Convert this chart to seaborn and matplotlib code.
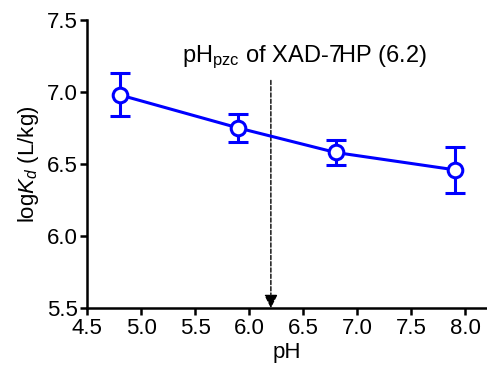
import matplotlib
matplotlib.use("Agg")
import matplotlib.pyplot as plt
import seaborn as sns
import pandas as pd

ph = [4.8, 5.9, 6.8, 7.9]
logkd = [6.98, 6.75, 6.58, 6.46]
err = [0.15, 0.10, 0.09, 0.16]
pzc = 6.2

sns.set_style("ticks")
plt.rcParams['font.family'] = ['Liberation Sans', 'DejaVu Sans']
plt.rcParams['mathtext.fontset'] = 'custom'
plt.rcParams['mathtext.rm'] = 'Liberation Sans'
plt.rcParams['mathtext.it'] = 'Liberation Sans:italic'
plt.rcParams['text.color'] = 'black'
plt.rcParams['axes.labelcolor'] = 'black'

fig = plt.figure(figsize=(4.87, 3.69), dpi=100)
ax = fig.add_axes([0.179, 0.165, 0.821, 0.781])

df = pd.DataFrame({"pH": ph, "logKd": logkd})
blue = "#0000ff"
ax.errorbar(ph, logkd, yerr=err, fmt='none', ecolor=blue, elinewidth=2.2,
            capsize=7, capthick=2.2, zorder=2)
sns.lineplot(data=df, x="pH", y="logKd", ax=ax, color=blue, linewidth=2.2,
             marker='o', markersize=10.5, markerfacecolor='white',
             markeredgecolor=blue, markeredgewidth=2.2, zorder=3)

ax.annotate("", xy=(pzc, 5.5), xytext=(pzc, 7.08),
            arrowprops=dict(arrowstyle='-|>', linestyle=(0, (3, 1.5)), color='black',
                            lw=1.0, mutation_scale=20, shrinkA=0, shrinkB=0),
            zorder=1)
ax.text(5.38, 7.21, r"pH$_{\mathrm{pzc}}$ of XAD-7HP (6.2)", ha='left', va='baseline',
        fontsize=17)

ax.set_xlim(4.5, 8.2)
ax.set_ylim(5.5, 7.5)
ax.set_xticks([4.5, 5.0, 5.5, 6.0, 6.5, 7.0, 7.5, 8.0])
ax.set_yticks([5.5, 6.0, 6.5, 7.0, 7.5])
ax.set_xticklabels(["4.5", "5.0", "5.5", "6.0", "6.5", "7.0", "7.5", "8.0"])
ax.set_yticklabels(["5.5", "6.0", "6.5", "7.0", "7.5"])
ax.tick_params(labelsize=16, width=1.8, length=5, direction='out', colors='black', pad=2)
ax.set_xlabel("pH", fontsize=16, labelpad=2)
ax.set_ylabel(r"log$\mathit{K}_{\mathit{d}}$ (L/kg)", fontsize=16, labelpad=4)
for s in ['left', 'bottom']:
    ax.spines[s].set_linewidth(1.8)
    ax.spines[s].set_color('black')
sns.despine(ax=ax)

fig.savefig("out.png", dpi=100)
